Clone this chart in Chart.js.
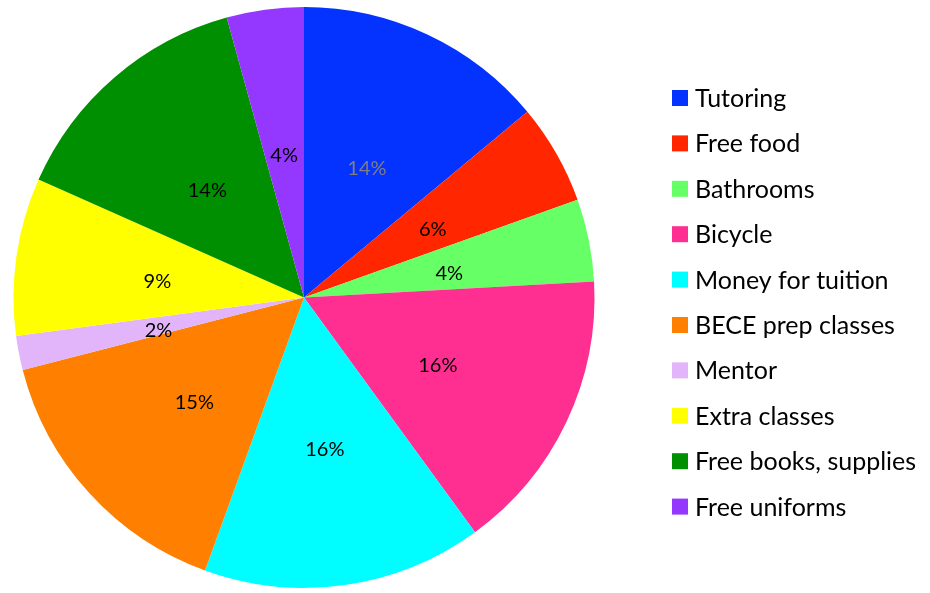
<!DOCTYPE html>
<html>
<head>
<meta charset="utf-8">
<script src="https://cdn.jsdelivr.net/npm/chart.js@4"></script>
<style>
  html, body { margin: 0; padding: 0; background: #fff; }
  #wrap { width: 930px; height: 593px; }
</style>
</head>
<body>
<div id="wrap"><canvas id="mypiechart" width="930" height="593"></canvas></div>
<script>
// Start Data
const categories = ['Tutoring', 'Free food', 'Bathrooms', 'Bicycle', 'Money for tuition',
  'BECE prep classes', 'Mentor', 'Extra classes', 'Free books, supplies', 'Free uniforms'];
const shares = [14.0, 5.6, 4.6, 15.9, 15.6, 15.5, 1.9, 8.8, 14.1, 4.3];
const pctLabels = ['14%', '6%', '4%', '16%', '16%', '15%', '2%', '9%', '14%', '4%'];
const sliceColors = ['#0433FF', '#FF2600', '#66FF66', '#FF2F92', '#00FDFF',
  '#FF7F00', '#E2B4FA', '#FFFF00', '#008F00', '#9437FF'];
// End Data

// slice labels, half way out
const sliceLabels = {
  id: 'sliceLabels',
  afterDatasetsDraw(chart) {
    const c = chart.ctx;
    const meta = chart.getDatasetMeta(0);
    c.save();
    c.font = '20px Lato, "Open Sans", sans-serif';
    c.textAlign = 'center';
    c.textBaseline = 'middle';
    meta.data.forEach(function(arc, i) {
      const mid = (arc.startAngle + arc.endAngle) / 2;
      const r = arc.outerRadius * 0.51;
      c.fillStyle = i === 0 ? '#7F7F7F' : '#000';
      c.fillText(pctLabels[i], arc.x + Math.cos(mid) * r, arc.y + Math.sin(mid) * r + 5);
    });
    c.restore();
  }
};

// legend on the right
const sideLegend = {
  id: 'sideLegend',
  afterDraw(chart) {
    const c = chart.ctx;
    c.save();
    c.font = '25px Lato, "Open Sans", sans-serif';
    c.textBaseline = 'middle';
    categories.forEach(function(name, i) {
      const y = 98 + i * 45.4;
      c.fillStyle = sliceColors[i];
      c.fillRect(672, y - 8, 16, 16);
      c.fillStyle = '#000';
      c.fillText(name, 695, y + 1);
    });
    c.restore();
  }
};

new Chart(document.getElementById('mypiechart'), {
  type: 'pie',
  data: {
    labels: categories,
    datasets: [{
      data: shares,
      backgroundColor: sliceColors,
      borderWidth: 0
    }]
  },
  options: {
    responsive: false,
    animation: false,
    layout: { padding: { left: 12, right: 334, top: 7, bottom: 5 } },
    plugins: {
      legend: { display: false },
      tooltip: { enabled: false }
    }
  },
  plugins: [sliceLabels, sideLegend]
});
</script>
</body>
</html>
